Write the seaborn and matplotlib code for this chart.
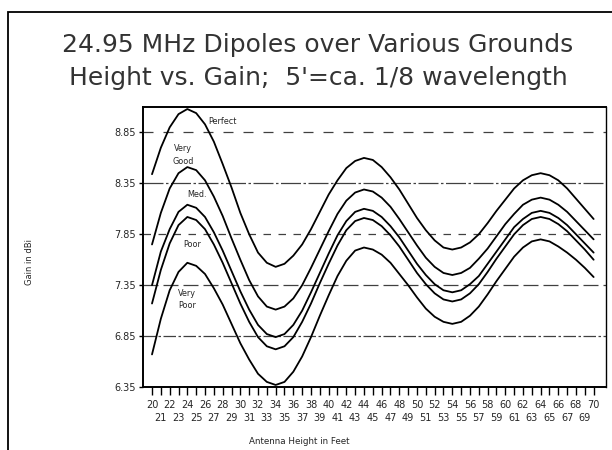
"""Dipole height vs. gain over various grounds (24.95 MHz)."""

import matplotlib
matplotlib.use("Agg")
import matplotlib.pyplot as plt
import matplotlib.patches as mpatches
import pandas as pd
import seaborn as sns

heights = list(range(20, 71))

perfect = [8.44, 8.70, 8.90, 9.03, 9.08, 9.04, 8.93, 8.76, 8.54, 8.31,
           8.06, 7.85, 7.67, 7.57, 7.53, 7.56, 7.64, 7.75, 7.90, 8.07,
           8.24, 8.38, 8.50, 8.57, 8.60, 8.58, 8.51, 8.41, 8.29, 8.15,
           8.01, 7.89, 7.79, 7.72, 7.70, 7.72, 7.77, 7.85, 7.96, 8.08,
           8.19, 8.30, 8.38, 8.43, 8.45, 8.43, 8.38, 8.30, 8.20, 8.10, 8.00]
very_good = [7.75, 8.06, 8.30, 8.45, 8.51, 8.48, 8.38, 8.22, 8.03, 7.81,
             7.60, 7.40, 7.24, 7.14, 7.11, 7.14, 7.22, 7.35, 7.52, 7.70,
             7.88, 8.05, 8.18, 8.26, 8.29, 8.27, 8.21, 8.12, 8.00, 7.87,
             7.74, 7.62, 7.53, 7.47, 7.45, 7.47, 7.52, 7.61, 7.71, 7.83,
             7.95, 8.05, 8.14, 8.19, 8.21, 8.19, 8.14, 8.07, 7.98, 7.89, 7.80]
medium = [7.35, 7.68, 7.90, 8.07, 8.14, 8.11, 8.02, 7.87, 7.69, 7.49,
          7.29, 7.11, 6.96, 6.87, 6.84, 6.87, 6.96, 7.10, 7.28, 7.47,
          7.66, 7.84, 7.98, 8.07, 8.10, 8.08, 8.02, 7.93, 7.82, 7.69,
          7.56, 7.45, 7.36, 7.30, 7.28, 7.30, 7.36, 7.44, 7.56, 7.68,
          7.80, 7.92, 8.00, 8.06, 8.08, 8.06, 8.01, 7.94, 7.85, 7.76, 7.67]
poor = [7.17, 7.50, 7.76, 7.94, 8.02, 7.99, 7.90, 7.75, 7.57, 7.37,
        7.17, 6.99, 6.84, 6.75, 6.72, 6.75, 6.84, 6.99, 7.17, 7.37,
        7.56, 7.74, 7.89, 7.98, 8.01, 7.99, 7.93, 7.84, 7.73, 7.60,
        7.47, 7.36, 7.27, 7.21, 7.19, 7.21, 7.27, 7.36, 7.48, 7.61,
        7.73, 7.85, 7.94, 8.00, 8.02, 8.00, 7.95, 7.88, 7.79, 7.70, 7.60]
very_poor = [6.67, 7.02, 7.30, 7.48, 7.57, 7.54, 7.46, 7.32, 7.16, 6.97,
             6.78, 6.62, 6.48, 6.40, 6.37, 6.40, 6.50, 6.65, 6.84, 7.05,
             7.25, 7.44, 7.59, 7.69, 7.72, 7.70, 7.65, 7.57, 7.46, 7.35,
             7.23, 7.12, 7.04, 6.99, 6.97, 6.99, 7.05, 7.14, 7.26, 7.39,
             7.51, 7.63, 7.72, 7.78, 7.80, 7.78, 7.73, 7.67, 7.60, 7.52, 7.43]

ground_names = ["Perfect", "Very Good", "Med.", "Poor", "Very Poor"]
curve_labels = ["Perfect", "Very\nGood", "Med.", "Poor", "Very\nPoor"]
label_x = [26.4, 23.5, 24.0, 23.5, 24.0]
label_y = [8.96, 8.63, 8.24, 7.75, 7.21]

y_ticks = [6.35, 6.85, 7.35, 7.85, 8.35, 8.85]
even_ticks = list(range(20, 71, 2))
odd_ticks = list(range(21, 70, 2))

records = []
for name, values in zip(ground_names, [perfect, very_good, medium, poor, very_poor]):
    for h, v in zip(heights, values):
        records.append({"height": h, "gain": v, "ground": name})
df = pd.DataFrame(records)

sns.set_style("white")
plt.rcParams["font.family"] = ["DejaVu Sans"]

fig = plt.figure(figsize=(6.12, 4.5), dpi=100)
ax = fig.add_axes([143 / 612, 1 - 387 / 450, (606 - 143) / 612, (387 - 107) / 450])

# page border of the scanned sheet
fig.patches.append(mpatches.Rectangle((8 / 612, -0.2), 1.2, 1 - 12 / 450 + 0.2,
                                      transform=fig.transFigure, fill=False,
                                      edgecolor="black", linewidth=1.3))

# gridlines
grid_styles = [(0, (14, 3, 2, 3)), (0, (10, 2, 2, 2)), (0, (12, 4)), (0, (6, 6)),
               (0, (16, 2, 2, 2)), (0, (8, 8))]
for yv, ls in zip(y_ticks, grid_styles):
    ax.axhline(yv, color="black", linewidth=0.9, linestyle=ls, alpha=0.75, zorder=1)

sns.lineplot(data=df, x="height", y="gain", hue="ground", hue_order=ground_names,
             palette=["black"] * 5, linewidth=1.3, legend=False, ax=ax, zorder=3)

for text, lx, ly in zip(curve_labels, label_x, label_y):
    ax.text(lx, ly, text, fontsize=5.8, ha="center" if "\n" in text else "left",
            va="center", linespacing=1.5)

ax.set_xlim(18.98, 71.4)
ax.set_ylim(6.35, 9.10)
ax.set_yticks(y_ticks)
ax.set_yticklabels([f"{v:.2f}" for v in y_ticks], fontsize=7)
ax.set_xticks(even_ticks)
ax.set_xticklabels([str(t) for t in even_ticks], fontsize=7)
ax.set_xticks(odd_ticks, minor=True)
ax.set_xticklabels([str(t) for t in odd_ticks], minor=True, fontsize=7)
ax.tick_params(axis="x", which="major", direction="out", length=6, width=1.0,
               pad=3, color="black", bottom=True)
ax.tick_params(axis="x", which="minor", direction="out", length=6, width=1.0,
               pad=13, color="black", bottom=True)
ax.tick_params(axis="y", direction="out", length=3, width=1.0, pad=2,
               color="black", left=True)
ax.set_xlabel("")
ax.set_ylabel("")
fig.text(299 / 612, 1 - 441 / 450, "Antenna Height in Feet", fontsize=6.3,
         ha="center", va="center")
fig.text(30 / 612, 1 - 262 / 450, "Gain in dBi", rotation=90, fontsize=6,
         ha="center", va="center")

for side in ["left", "bottom", "top", "right"]:
    ax.spines[side].set_color("black")
    ax.spines[side].set_linewidth(1.4 if side in ("left", "bottom", "top") else 1.0)

fig.text(318 / 612, 1 - 45 / 450, "24.95 MHz Dipoles over Various Grounds",
         fontsize=18, ha="center", va="center", color="#333333")
fig.text(318 / 612, 1 - 78 / 450, "Height vs. Gain;  5'=ca. 1/8 wavelength",
         fontsize=18, ha="center", va="center", color="#333333")

fig.savefig("out.png", dpi=100)
plt.close(fig)
